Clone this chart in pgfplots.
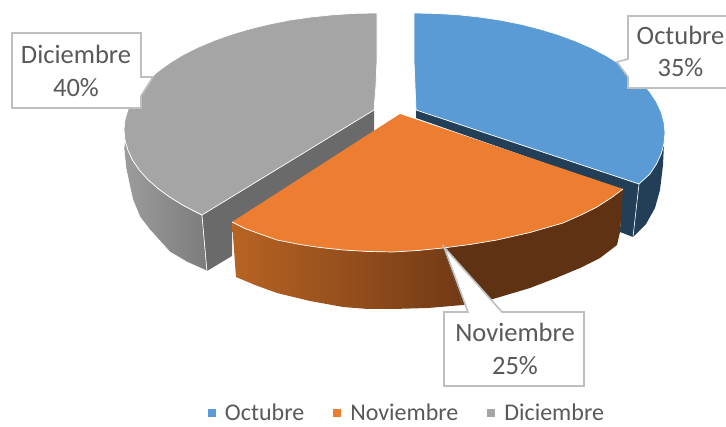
\documentclass[border=0pt]{standalone}
\usepackage{fontspec}
\setmainfont{Carlito}
\usepackage{pgfplots}
\pgfplotsset{compat=1.18}
\definecolor{cblue}{HTML}{5B9BD5}
\definecolor{corange}{HTML}{ED7D31}
\definecolor{cgray}{HTML}{A5A5A5}
\definecolor{dblue}{HTML}{233F57}
\definecolor{dgray}{HTML}{6A6A6A}
\definecolor{dorange}{HTML}{5E3213}
\definecolor{oleft}{HTML}{B86323}
\definecolor{oright}{HTML}{713A15}
\definecolor{gleft}{HTML}{9C9C9C}
\definecolor{gright}{HTML}{7C7C7C}
\definecolor{boxline}{HTML}{BFBFBF}
\definecolor{txt}{HTML}{595959}
\begin{document}
\begin{tikzpicture}
\begin{axis}[
  name=a,
  x=1pt,y=1pt,xmin=0,xmax=726,ymin=0,ymax=427,y dir=reverse,
  hide axis,clip=true,
  legend columns=3,
  legend style={at={(axis cs:407,413)},anchor=center,draw=none,fill=none,
    font=\fontsize{24}{26}\selectfont\color{txt},
    /tikz/every odd column/.append style={column sep=7pt},
    /tikz/every even column/.append style={column sep=27pt},
    inner sep=0pt,outer sep=0pt},
  legend cell align=left,
  legend image code/.code={\fill[#1,draw=none] (0pt,-4pt) rectangle (8pt,4pt);},
]
\addlegendimage{fill=cblue}
\addlegendimage{fill=corange}
\addlegendimage{fill=cgray}
% gray side
\addplot[forget plot,draw=white,line width=0.5pt,shade,left color=gleft,right color=gright] coordinates {
(125,140)(128,150.3)(132.6,160.3)(139.3,170)(147.7,179.4)(158,188.5)(169.8,197.1)(183,205.2)(192,210)(202,215)
(207,271)(187,262)(170,252)(150,230)(140,217)(133,200)(130,187)(126,168)(124,148)} -- cycle;
% gray cut
\addplot[forget plot,fill=dgray,draw=none] coordinates {(374,110)(374,132)(232,223)(232,256)(207,271)(202,215)} -- cycle;
\addplot[forget plot,draw=white,line width=0.6pt] coordinates {(202,215)(207,271)};
% gray top
\addplot[forget plot,fill=cgray,draw=white,line width=0.7pt] coordinates {
(377,13)(355,13.4)(333,14.8)(311.5,17)(290.5,20)(270,24)(250.5,28.7)(232,34.2)(214.4,40.4)(198,47.3)(183,54.8)(169.8,62.9)(158,71.5)(147.7,80.6)(139.3,90)(132.6,99.7)(128,109.7)(125,119.8)(124,130)(125,140)(128,150.3)(132.6,160.3)(139.3,170)(147.7,179.4)(158,188.5)(169.8,197.1)(183,205.2)(192,210)(202,215)
(374,110)(376,85)(377,60)(377,35)} -- cycle;
% blue sides
\addplot[forget plot,fill=dblue,draw=none] coordinates {
(664,143)(656.5,164)(649.9,174)(639,184)(633,237)(646,224)(655,208)(660,190)(663,165)} -- cycle;
\addplot[forget plot,fill=dblue,draw=none] coordinates {(416,110)(639,184)(633,237)(620,232)(622,190)(416,118)} -- cycle;
\addplot[forget plot,draw=white,line width=0.6pt] coordinates {(639,184)(633,237)};
% blue top
\addplot[forget plot,fill=cblue,draw=white,line width=0.7pt] coordinates {
(414,13)(436.8,13.5)(458.4,14.8)(479.7,17.1)(500.5,20.2)(520.7,24.2)(540,29.1)(558.4,34.7)(575.7,41.1)(591.8,48.1)(606.5,55.9)(619.8,64.2)(631.5,73)(641.6,82.3)(649.9,92)(656.5,102)(661.2,112.2)(664,122.5)(665,133)(664,143.5)(661.2,153.8)(656.5,164)(649.9,174)(639,184)
(416,110)(414,60)} -- cycle;
% orange sides
\addplot[forget plot,draw=none,shade,left color=oleft,right color=oright] coordinates {
(232,222)(245,228.5)(260,234)(277,240)(300,244.5)(320,247.5)(343,250)(368,251.5)(393,252)(418,250.5)(443,248)(463,305)(428,308)(393,309)(368,309)(343,307)(310,301)(277,293)(255,285)(236,277)} -- cycle;
\addplot[forget plot,fill=dorange,draw=none] coordinates {
(443,248)(470,244.5)(497,240)(530,232.5)(563,223)(581,215)(597,207)(611,198)(623,189)(620,232)(617,245)(600,258)(580,268)(556,278)(530,288)(493,299)(463,305)} -- cycle;
% orange top
\addplot[forget plot,fill=corange,draw=none] coordinates {
(400,114)(623,189)(611,198)(597,207)(581,215)(563,223)(530,232.5)(497,240)(470,244.5)(443,248)(418,250.5)(393,252)(368,251.5)(343,250)(320,247.5)(300,244.5)(277,240)(260,234)(245,228.5)(232,222)} -- cycle;
\addplot[forget plot,draw=white,line width=0.7pt] coordinates {
(623,189)(611,198)(597,207)(581,215)(563,223)(530,232.5)(497,240)(470,244.5)(443,248)(418,250.5)(393,252)(368,251.5)(343,250)(320,247.5)(300,244.5)(277,240)(260,234)(245,228.5)(232,222)};
% label boxes
\addplot[forget plot,fill=white,draw=boxline,line width=1.6pt] coordinates {(628,16)(735,16)(735,88)(628,88)(628,77)(617,62)(628,59)} -- cycle;
\addplot[forget plot,fill=white,draw=boxline,line width=1.6pt] coordinates {(12,33)(141,33)(141,77)(153,77)(141,96)(141,108)(12,108)} -- cycle;
\addplot[forget plot,fill=white,draw=boxline,line width=1.6pt] coordinates {(444,312)(468,312)(444,247)(502,312)(584,312)(584,386)(444,386)} -- cycle;
\legend{Octubre,Noviembre,Diciembre}
\def\lab{\fontsize{26.5}{30}\selectfont\color{txt}}
\node[anchor=base,inner sep=0pt] at (axis cs:680.5,45) {\lab Octubre};
\node[anchor=base,inner sep=0pt] at (axis cs:680.5,77) {\lab 35\%};
\node[anchor=base,inner sep=0pt] at (axis cs:76,64) {\lab Diciembre};
\node[anchor=base,inner sep=0pt] at (axis cs:76,97) {\lab 40\%};
\node[anchor=base,inner sep=0pt] at (axis cs:515,342) {\lab Noviembre};
\node[anchor=base,inner sep=0pt] at (axis cs:515,375) {\lab 25\%};
\end{axis}
\useasboundingbox (a.south west) rectangle (a.north east);
\end{tikzpicture}
\end{document}
